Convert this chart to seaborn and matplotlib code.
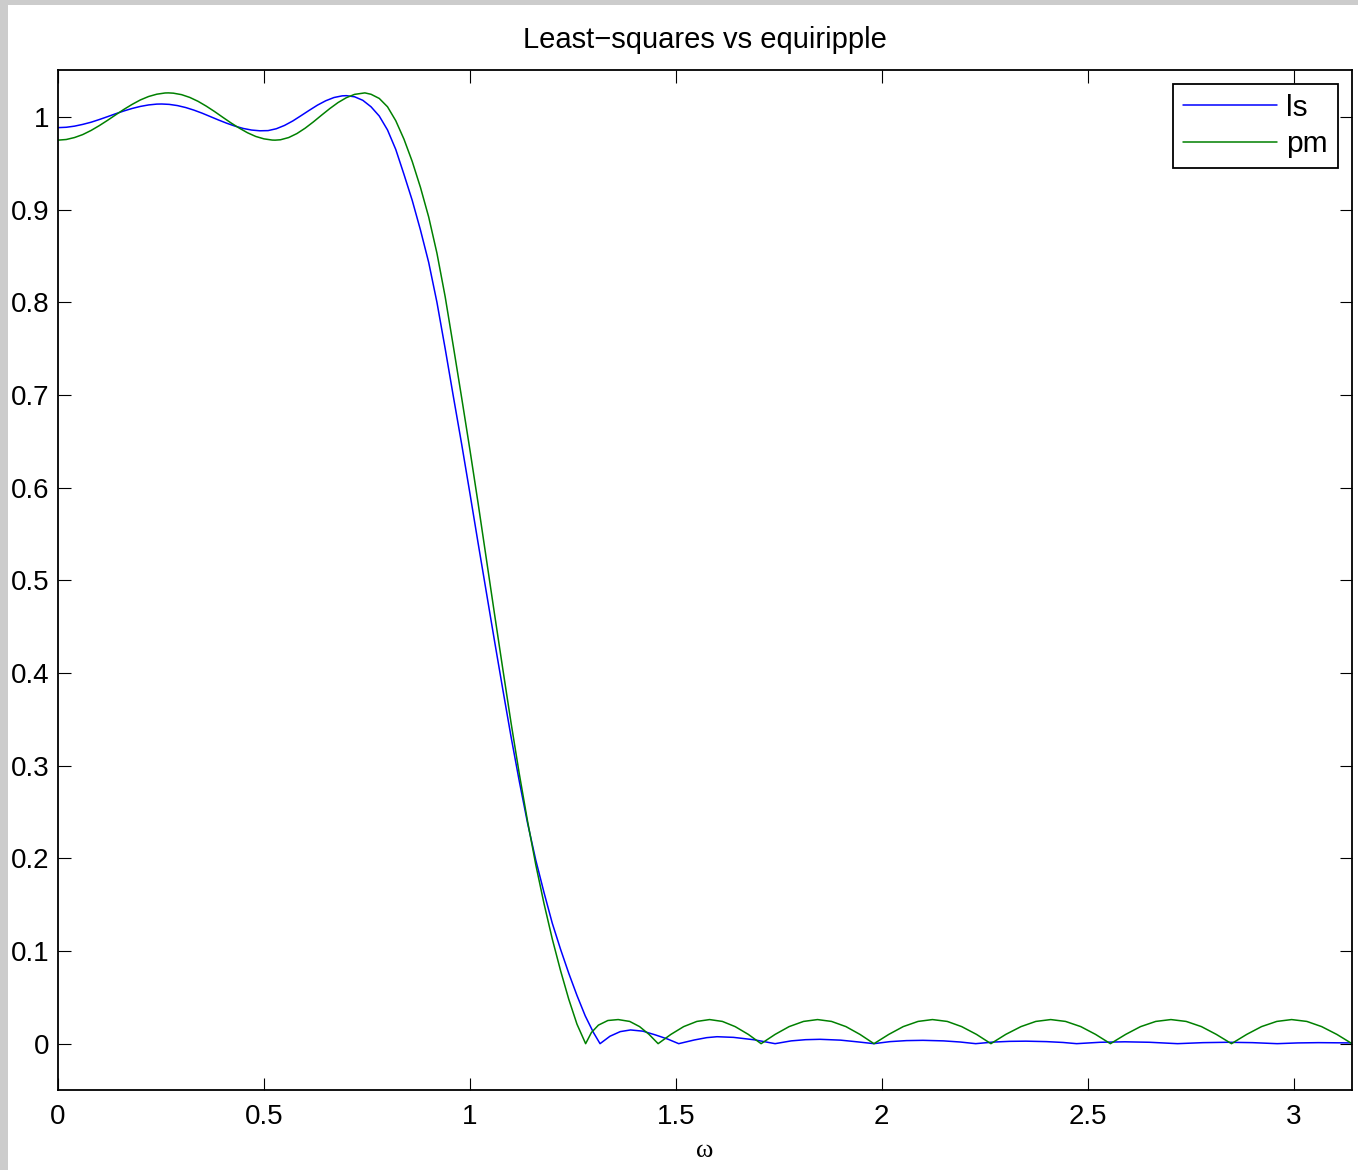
import matplotlib
matplotlib.use("Agg")
import matplotlib.pyplot as plt
from matplotlib.patches import Rectangle
from matplotlib.ticker import FormatStrFormatter
import numpy as np
import pandas as pd
import seaborn as sns


# magnitude responses (omega, |H|)
ls_w = [0.00, 0.02, 0.04, 0.06, 0.08, 0.10, 0.12, 0.14, 0.16, 0.18,
        0.20, 0.22, 0.24, 0.252, 0.27, 0.29, 0.31, 0.33, 0.35, 0.37,
        0.39, 0.41, 0.43, 0.45, 0.47, 0.49, 0.51, 0.53, 0.55, 0.57,
        0.59, 0.61, 0.63, 0.65, 0.67, 0.69, 0.70, 0.72, 0.74, 0.76,
        0.78, 0.80, 0.82, 0.84, 0.86, 0.88, 0.90, 0.92, 0.94, 0.96,
        0.98, 1.00, 1.02, 1.04, 1.06, 1.08, 1.10, 1.12, 1.14, 1.16,
        1.18, 1.20, 1.22, 1.24, 1.26, 1.28, 1.30, 1.316,
        1.340, 1.365, 1.390, 1.420, 1.450, 1.480, 1.507,
        1.545, 1.575, 1.600, 1.640, 1.690, 1.741,
        1.780, 1.815, 1.850, 1.900, 1.940, 1.981,
        2.020, 2.060, 2.100, 2.150, 2.190, 2.228,
        2.270, 2.310, 2.350, 2.400, 2.440, 2.473,
        2.530, 2.590, 2.650, 2.718,
        2.780, 2.840, 2.900, 2.960,
        3.010, 3.060, 3.1416]
ls_mag = [0.9885, 0.9889, 0.9901, 0.9920, 0.9943, 0.9972, 1.0003, 1.0035, 1.0065, 1.0092,
          1.0114, 1.0130, 1.0139, 1.0140, 1.0136, 1.0123, 1.0102, 1.0074, 1.0041, 1.0004,
          0.9967, 0.9932, 0.9901, 0.9876, 0.9859, 0.9851, 0.9853, 0.9873, 0.9909, 0.9957,
          1.0014, 1.0072, 1.0128, 1.0175, 1.0210, 1.0228, 1.0230, 1.0218, 1.0180, 1.0110,
          1.001, 0.986, 0.965, 0.938, 0.910, 0.878, 0.843, 0.800, 0.750, 0.698,
          0.647, 0.594, 0.540, 0.487, 0.434, 0.382, 0.331, 0.283, 0.238, 0.198,
          0.163, 0.130, 0.102, 0.076, 0.052, 0.030, 0.012, 0.000,
          0.008, 0.013, 0.0148, 0.0135, 0.0095, 0.005, 0.000,
          0.004, 0.0065, 0.0075, 0.0068, 0.0042, 0.000,
          0.003, 0.0043, 0.0047, 0.0038, 0.002, 0.000,
          0.0022, 0.0033, 0.0036, 0.003, 0.0018, 0.000,
          0.0017, 0.0025, 0.0027, 0.0022, 0.0013, 0.000,
          0.0015, 0.002, 0.0015, 0.000,
          0.0011, 0.0015, 0.0011, 0.000,
          0.0008, 0.0011, 0.0008]

pm_w = [0.00, 0.02, 0.04, 0.06, 0.08, 0.10, 0.12, 0.14, 0.16, 0.18,
        0.20, 0.22, 0.24, 0.26, 0.268, 0.28, 0.30, 0.32, 0.34, 0.36,
        0.38, 0.40, 0.42, 0.44, 0.46, 0.48, 0.50, 0.52, 0.527, 0.54,
        0.56, 0.58, 0.60, 0.62, 0.64, 0.66, 0.68, 0.70, 0.72, 0.745,
        0.76, 0.78, 0.80, 0.82, 0.84, 0.86, 0.88, 0.90, 0.92, 0.94,
        0.96, 0.98, 1.00, 1.02, 1.04, 1.06, 1.08, 1.10, 1.12, 1.14,
        1.16, 1.18, 1.20, 1.22, 1.24, 1.26, 1.281,
        1.295, 1.312, 1.335, 1.360, 1.388, 1.412, 1.435, 1.457,
        1.488, 1.519, 1.551, 1.582, 1.613, 1.644, 1.676, 1.707,
        1.741, 1.775, 1.810, 1.844, 1.878, 1.913, 1.947, 1.981,
        2.017, 2.052, 2.088, 2.123, 2.159, 2.194, 2.230, 2.265,
        2.301, 2.338, 2.374, 2.410, 2.446, 2.483, 2.519, 2.555,
        2.592, 2.628, 2.665, 2.702, 2.739, 2.776, 2.812, 2.849,
        2.886, 2.922, 2.959, 2.995, 3.032, 3.068, 3.105, 3.1416]
pm_mag = [0.9750, 0.9757, 0.9778, 0.9810, 0.9854, 0.9906, 0.9963, 1.0023, 1.0082, 1.0136,
          1.0184, 1.0221, 1.0246, 1.0259, 1.0260, 1.0257, 1.0241, 1.0211, 1.0169, 1.0117,
          1.0059, 0.9997, 0.9936, 0.9880, 0.9830, 0.9790, 0.9764, 0.9751, 0.9750, 0.9754,
          0.9778, 0.9821, 0.9879, 0.9947, 1.0020, 1.0091, 1.0156, 1.0208, 1.0244, 1.0260,
          1.0245, 1.020, 1.011, 0.996, 0.976, 0.952, 0.924, 0.892, 0.853, 0.806,
          0.752, 0.697, 0.641, 0.583, 0.523, 0.463, 0.404, 0.346, 0.291, 0.240,
          0.193, 0.151, 0.113, 0.079, 0.048, 0.021, 0.000,
          0.012, 0.020, 0.025, 0.026, 0.024, 0.0184, 0.010, 0.000,
          0.010, 0.0184, 0.024, 0.026, 0.024, 0.0184, 0.010, 0.000,
          0.010, 0.0184, 0.024, 0.026, 0.024, 0.0184, 0.010, 0.000,
          0.010, 0.0184, 0.024, 0.026, 0.024, 0.0184, 0.010, 0.000,
          0.010, 0.0184, 0.024, 0.026, 0.024, 0.0184, 0.010, 0.000,
          0.010, 0.0184, 0.024, 0.026, 0.024, 0.0184, 0.010, 0.000,
          0.010, 0.0184, 0.024, 0.026, 0.024, 0.0184, 0.010, 0.000]

x_ticks = [0, 0.5, 1, 1.5, 2, 2.5, 3]
y_ticks = [0, 0.1, 0.2, 0.3, 0.4, 0.5, 0.6, 0.7, 0.8, 0.9, 1.0]


sns.set_style("white")
plt.rcParams['font.family'] = ['Liberation Sans', 'DejaVu Sans']
plt.rcParams['text.color'] = 'black'
plt.rcParams['axes.labelcolor'] = 'black'

fig = plt.figure(figsize=(13.58, 11.70), dpi=100, facecolor='#cccccc')
# white canvas, leaving a thin grey strip on the left and top
fig.patches.append(Rectangle((8/1358, 0), 1350/1358, 1165/1170,
                             transform=fig.transFigure, facecolor='white',
                             edgecolor='none', zorder=-10))
ax = fig.add_axes([58/1358, 80/1170, 1294/1358, 1020/1170])
ax.set_zorder(1)

ls_df = pd.DataFrame({"w": ls_w, "mag": ls_mag})
pm_df = pd.DataFrame({"w": pm_w, "mag": pm_mag})

sns.lineplot(data=ls_df, x="w", y="mag", ax=ax, color=(0, 0, 1), lw=1.1, label="ls")
sns.lineplot(data=pm_df, x="w", y="mag", ax=ax, color=(0, 0.5, 0), lw=1.1, label="pm")

ax.set_xlim(0, np.pi)
ax.set_ylim(-0.05, 1.0507)
ax.set_xticks(x_ticks)
ax.set_yticks(y_ticks)
ax.xaxis.set_major_formatter(FormatStrFormatter('%g'))
ax.yaxis.set_major_formatter(FormatStrFormatter('%g'))

for s in ax.spines.values():
    s.set_color('black')
    s.set_linewidth(1.3)

ax.tick_params(axis='both', which='major', direction='in', length=9, width=0.8,
               color='black', labelsize=20, labelcolor='black',
               top=True, right=True, bottom=True, left=True)
ax.tick_params(axis='x', pad=10)
ax.tick_params(axis='y', pad=6)

ax.set_title("Least\u2212squares vs equiripple", fontsize=21, pad=16, color='black')
ax.set_xlabel("\u03c9", fontsize=19, family=['Liberation Serif', 'DejaVu Serif'], labelpad=7)
ax.set_ylabel("")

leg = ax.legend(loc="upper right", fontsize=21.5, frameon=True, fancybox=False,
                handlelength=3.15, handletextpad=0.33, labelspacing=0.28,
                borderpad=0.33, borderaxespad=0.47)
leg.get_frame().set_edgecolor('black')
leg.get_frame().set_linewidth(1.3)
leg.get_frame().set_alpha(1)
for t in leg.get_texts():
    t.set_color('black')

fig.savefig("out.png", dpi=100, facecolor=fig.get_facecolor())
